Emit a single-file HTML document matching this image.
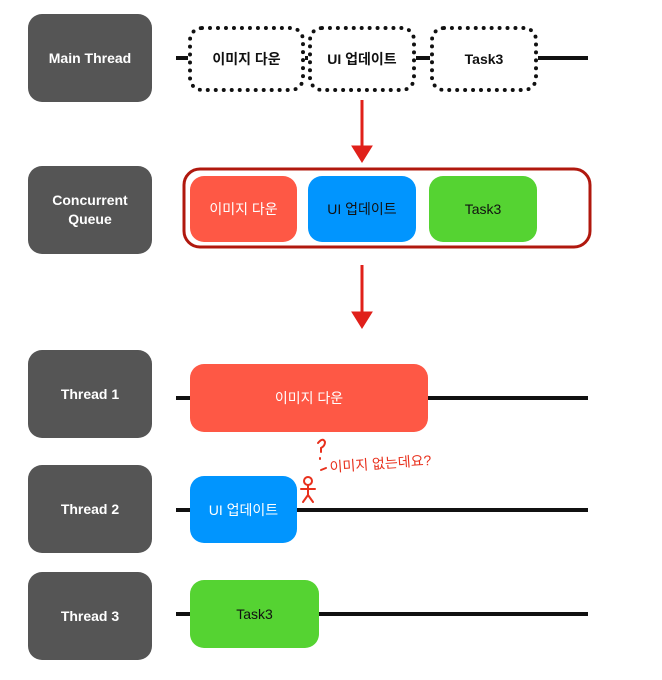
<!DOCTYPE html>
<html><head><meta charset="utf-8"><style>
body{margin:0;width:662px;height:680px;background:#fff;position:relative;font-family:"Liberation Sans","Noto Sans CJK KR",sans-serif;overflow:hidden}
.l{position:absolute;left:28px;width:124px;height:88px;background:#555;border-radius:14px;color:#fff;font-weight:bold;font-size:14px;display:flex;align-items:center;justify-content:center;text-align:center;line-height:19px}
.b{position:absolute;border-radius:14px;display:flex;align-items:center;justify-content:center;font-size:14px}
.d{border:4px dotted #111;box-sizing:border-box;font-weight:bold;color:#111;background:#fff}
.ln{position:absolute;height:4px;background:#111;left:176px}
.r{background:#fe5845;color:#fff}.u{background:#0195fe;color:#111}.g{background:#55d332;color:#111}
</style></head><body>
<div class="l" style="top:14px">Main Thread</div>
<div class="l" style="top:166px">Concurrent<br>Queue</div>
<div class="l" style="top:350px">Thread 1</div>
<div class="l" style="top:465px">Thread 2</div>
<div class="l" style="top:572px">Thread 3</div>
<div class="ln" style="top:56px;width:412px"></div>
<div class="b d" style="left:188px;top:26px;width:117px;height:66px">이미지 다운</div>
<div class="b d" style="left:308px;top:26px;width:108px;height:66px">UI 업데이트</div>
<div class="b d" style="left:430px;top:26px;width:108px;height:66px">Task3</div>
<svg style="position:absolute;left:0;top:0" width="662" height="680">
<g fill="#e0201a" stroke="#e0201a"><line x1="362" y1="100" x2="362" y2="146" stroke-width="3"/><polygon points="352,146 372,146 362,162"/>
<line x1="362" y1="265" x2="362" y2="312" stroke-width="3"/><polygon points="352,312 372,312 362,328"/></g>
<rect x="184" y="169" width="406" height="78" rx="16" fill="none" stroke="#b0180e" stroke-width="3"/>
<g stroke="#e8301c" stroke-width="2" fill="none" stroke-linecap="round"><circle cx="308" cy="481" r="4"/><path d="M308 485v10M301 489h14M308 495l-5 7M308 495l5 7M318 443q5-6 7-1q0 4-4 6v4M320 458v1M321 470l5-2"/></g>
<text x="330" y="472" fill="#e8301c" font-size="14" font-family="Liberation Sans, Noto Sans CJK KR, sans-serif" transform="rotate(-4 330 472)">이미지 없는데요?</text>
</svg>
<div class="b r" style="left:190px;top:176px;width:107px;height:66px">이미지 다운</div>
<div class="b u" style="left:308px;top:176px;width:108px;height:66px">UI 업데이트</div>
<div class="b g" style="left:429px;top:176px;width:108px;height:66px">Task3</div>
<div class="ln" style="top:396px;width:412px"></div>
<div class="b r" style="left:190px;top:364px;width:238px;height:68px">이미지 다운</div>
<div class="ln" style="top:508px;width:412px"></div>
<div class="b u" style="left:190px;top:476px;width:107px;height:67px;color:#fff">UI 업데이트</div>
<div class="ln" style="top:612px;width:412px"></div>
<div class="b g" style="left:190px;top:580px;width:129px;height:68px">Task3</div>
</body></html>
